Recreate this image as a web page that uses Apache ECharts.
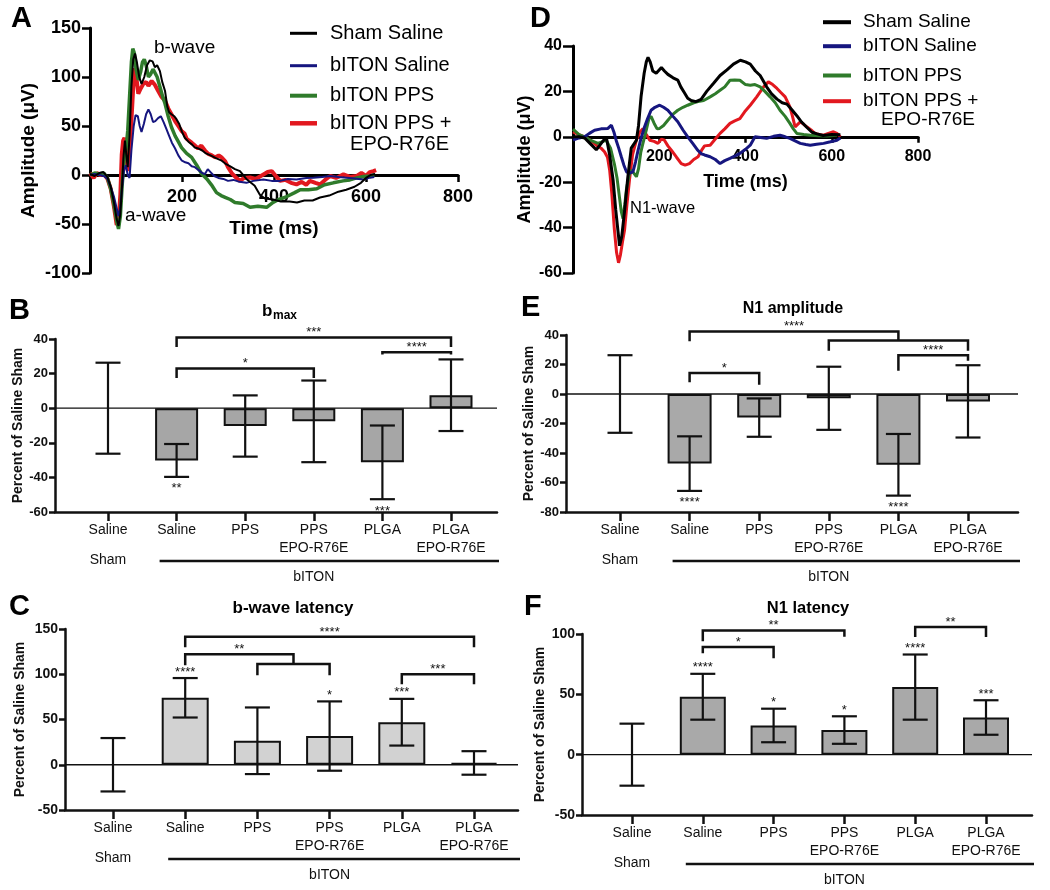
<!DOCTYPE html>
<html><head><meta charset="utf-8">
<script src="https://cdn.jsdelivr.net/npm/echarts@6/dist/echarts.min.js"></script>
<style>html,body{margin:0;padding:0;background:#fff}#c{width:1050px;height:890px}</style>
</head><body><div id="c"></div>
<script>
const FONT = "'Liberation Sans', Arial, Helvetica, sans-serif";
const INK = '#111111';

// ===== Panel A: ERG traces [time ms, amplitude uV] =====
const aShamSaline = [[0,1],[10,-1],[20,2],[29,3],[38,-2],[45,-12],[52,-28],[58,-45],[62,-52],[66,-40],[70,-8],[73,20],[76,35],[79,20],[82,8],[86,40],[90,90],[94,118],[98,124],[102,115],[107,100],[112,93],[118,100],[124,112],[130,117],[136,116],[141,110],[146,112],[152,106],[157,95],[163,86],[168,70],[172,64],[177,62],[183,60],[188,57],[194,52],[200,44],[206,38],[214,34],[222,31],[228,28],[236,27],[244,25],[252,22],[262,20],[275,17],[285,15],[296,11],[304,9],[315,6],[326,4],[340,-4],[350,-8],[358,-11],[369,-20],[380,-24],[398,-25],[415,-27],[434,-27],[450,-28],[466,-26],[484,-26],[500,-23],[520,-21],[540,-17],[557,-15],[575,-12],[589,-8],[600,-3],[610,0],[620,1]];
const aBitonSaline = [[0,0],[10,1],[20,0],[30,-1],[38,-4],[45,-12],[52,-22],[58,-34],[62,-42],[66,-32],[70,-12],[74,5],[78,10],[82,0],[86,-3],[90,25],[95,50],[99,61],[104,60],[108,50],[112,44],[117,52],[122,62],[127,67],[132,62],[137,54],[142,55],[148,58],[154,60],[160,54],[166,47],[172,40],[178,33],[185,27],[192,20],[199,15],[207,13],[214,12],[221,9],[228,8],[236,5],[244,2],[250,1],[256,6],[262,3],[270,-1],[279,-3],[290,-4],[300,-6],[312,-5],[325,-7],[340,-8],[355,-6],[377,-4.5],[395,-6],[413,-6],[430,-4],[449,-4.5],[470,-3],[486,-2.7],[505,-2],[522,-1],[540,-2],[558,-2.7],[575,-3.5],[594,-4.5],[609,-2.7],[618,-2]];
const aBitonPps = [[0,0],[10,2],[20,1],[30,2],[38,-3],[45,-14],[52,-30],[58,-47],[62,-55],[66,-42],[70,-10],[74,15],[78,25],[82,45],[86,80],[90,115],[93,129],[96,125],[100,108],[105,97],[110,105],[114,115],[118,118],[122,112],[127,100],[132,103],[137,108],[141,110],[146,100],[152,90],[158,80],[163,73],[170,60],[177,49],[185,40],[192,34],[199,28],[210,22],[221,18],[232,10],[243,1],[254,-4],[264,-10],[275,-18],[285,-21],[295,-23],[305,-25],[315,-28],[333,-29],[348,-33],[365,-32],[384,-33],[398,-28],[410,-25],[428,-22],[445,-18],[457,-15],[475,-15],[493,-14],[510,-10],[529,-8],[550,-6],[565,-5],[580,-3],[595,-1.5],[609,-1],[618,0]];
const aBitonPpsEpo = [[0,2],[8,-3],[15,2],[22,0],[30,1],[38,-4],[45,-14],[52,-32],[58,-51],[62,-48],[66,-20],[69,21],[72,35],[75,38],[78,25],[82,4],[86,25],[90,55],[94,90],[98,109],[102,95],[105,83],[110,88],[116,93],[122,95],[127,91],[134,96],[141,92],[148,86],[155,80],[163,76],[170,68],[177,62],[185,55],[192,50],[199,45],[206,42],[210,37],[214,36],[221,33],[228,30],[235,27],[242,30],[250,25],[257,21.5],[265,20],[272,18],[280,20],[286,18],[294,14],[300,8],[308,2],[316,-2],[326,-6],[335,-3],[348,-2.6],[360,-4],[377,0.6],[386,3],[395,4],[404,-1],[413,-6],[425,-5],[437,-8],[449,-9.6],[460,-7],[470,-10],[478,-6],[490,-8],[500,-9.6],[511,-5],[522,-1],[535,-3],[551,0.6],[565,-2],[580,-1],[590,2],[600,-1],[608,3],[616,4],[622,5]];
const aAmpTicks = [-100, -50, 0, 50, 100, 150];
const timeTicks = [0, 200, 400, 600, 800];

// ===== Panel D: VEP traces [time ms, amplitude uV] =====
const dShamSaline = [[0,0],[14,0],[27,-0.5],[40,-3],[54,-5.7],[65,-3],[77,0],[85,-8],[93,-19],[99,-32],[104,-41],[108,-48],[113,-44],[120,-32],[127,-18],[135,-5],[147,-1.5],[152,5],[158,18],[165,28],[170,33],[174,35],[179,33],[185,29],[193,28],[205,30.5],[212,29],[220,27.5],[232,26],[243,25],[250,22],[258,19.5],[266,17],[274,16],[285,15.5],[297,16.5],[310,20],[326,23.6],[341,27],[357,29.5],[372,32],[388,33.7],[400,33],[411,32],[423,29],[434,27],[449,22],[460,19],[473,16.6],[485,15],[496,14.4],[507,12],[519,9.3],[530,6.5],[542,4.2],[554,2],[566,1.3],[580,0.6],[600,1],[620,0.9]];
const dBitonSaline = [[0,-1.5],[14,-0.5],[27,0],[38,1.5],[50,2.9],[65,3.5],[81,3.7],[89,5.1],[95,2],[100,-1.5],[106,-5],[112,-8.8],[118,-12.5],[124,-15.4],[131,-16],[139,-15.4],[145,-11],[151,-5.9],[158,-0.5],[166,4.4],[173,8],[181,11.7],[190,13],[201,13.9],[210,13],[220,11.7],[232,9],[243,6.6],[255,3],[266,0],[278,-3],[289,-5.9],[298,-7.5],[305,-8],[318,-8.8],[330,-10],[341,-11.8],[352,-10.5],[364,-9.5],[375,-8.5],[387,-7.3],[400,-5.5],[411,-3.7],[422,0],[435,-0.3],[449,-0.7],[465,0.2],[480,0.7],[492,0],[503,-0.7],[515,-1.8],[527,-2.9],[540,-3.4],[550,-3.7],[565,-3.3],[581,-2.9],[597,-2.2],[612,-1.5],[620,-0.5]];
const dBitonPps = [[0,3.4],[14,1],[27,0],[40,-1.5],[58,-2.9],[70,-2],[77,-1.5],[87,-5],[96,-12],[102,-18],[108,-27],[112,-33],[116,-36],[120,-30],[124,-23],[130,-17],[135,-14.7],[141,-16],[147,-17.6],[152,-14],[157,-7],[162,-3],[170,3],[176,8],[181,9],[188,6],[195,3.5],[201,3.7],[210,5],[220,7.3],[232,10],[243,11.7],[255,13],[266,13.9],[280,15],[290,15.5],[303,16],[318,17.6],[330,19],[341,20.5],[352,22],[364,24.9],[375,25],[387,24.9],[400,23],[411,22.7],[422,23],[434,22],[445,20],[457,17.6],[469,15],[480,11.7],[492,9],[503,5.9],[511,3.5],[519,1.5],[535,1],[550,0.7],[570,0.5],[589,0.3],[612,0.7]];
const dBitonPpsEpo = [[0,2.2],[14,1],[27,0],[40,-1.5],[54,-3.7],[65,-5],[73,-6.6],[80,-9],[85,-14.7],[90,-25],[96,-41],[101,-51],[105.6,-55.5],[110,-52],[115,-46],[119.6,-41],[125,-30],[131,-19],[138,-8],[147,-1.5],[155,2],[162,3.6],[170,1],[178,-1.5],[188,-2],[197,-2.9],[205,-1],[212,-1.5],[220,-4],[228,-5.9],[240,-9],[251,-11.8],[260,-12.5],[270,-11.8],[280,-10],[290,-8.8],[298,-6],[305,-4],[318,-3.7],[330,-1],[341,1.5],[352,3.5],[364,5.9],[375,7],[387,8],[398,11],[411,13.9],[426,17.6],[442,22],[453,24.2],[463,23],[473,21.3],[482,19.5],[492,17.6],[503,13.2],[509,9],[515,4.4],[521,5.5],[527,6.6],[535,5.5],[542,4.4],[552,3],[561,1.5],[571,1],[581,0.7],[592,1.5],[604,2.2],[612,1.5],[620,0]];
const dAmpTicks = [-60, -40, -20, 0, 20, 40];

const traceNames = ['Sham Saline', 'bITON Saline', 'bITON PPS', 'bITON PPS + EPO-R76E'];
const traceColors = ['#000000', '#16167f', '#2f7b2b', '#e2181f'];

// ===== Bar panels =====
const categories = ['Saline', 'Saline', 'PPS', 'PPS\nEPO-R76E', 'PLGA', 'PLGA\nEPO-R76E'];
const groupLabels = ['Sham', '', '', '\nbITON', '', ''];

// B: b max
const bmaxMean = [0, -30.2, -10.3, -7.6, -31.3, 7.5];
const bmaxErr = [26.3, 9.5, 17.7, 23.6, 21.3, 20.7];
const bmaxStars = ['', '**', '', '', '***', ''];
const bmaxTicks = [-60, -40, -20, 0, 20, 40];
const bmaxBrackets = [[1, 5, 40.8, 35.4, 35.4], [1, 3, 23, 17.4, 17.4], [4, 5, 32.3, 31, 31]];
const bmaxBracketLabels = ['***', '*', '****'];

// E: N1 amplitude
const n1AmpMean = [0, -47.2, -16, -2.9, -48, -5];
const n1AmpErr = [26.3, 18.5, 13, 21.4, 20.9, 24.5];
const n1AmpStars = ['', '****', '', '', '****', ''];
const n1AmpTicks = [-80, -60, -40, -20, 0, 20, 40];
const n1AmpBrackets = [[1, 4, 42.4, 35.7, 36.3], [3, 5, 36.3, 29.4, 29.4], [1, 2, 14.2, 7.9, 6.3], [4, 5, 26.2, 15.8, 22.6]];
const n1AmpBracketLabels = ['****', '', '*', '****'];

// C: b-wave latency
const bLatMean = [0, 74, 26.5, 31.7, 47, 2];
const bLatErr = [29.5, 21.8, 36.8, 38.3, 25.8, 13];
const bLatStars = ['', '****', '', '*', '***', ''];
const bLatTicks = [-50, 0, 50, 100, 150];
const bLatBrackets = [[1, 5, 141.5, 129.7, 129.7], [1, 2.5, 122, 110, 111.2], [2, 3, 111.2, 99, 99], [4, 5, 100.1, 89, 89]];
const bLatBracketLabels = ['****', '**', '', '***'];

// F: N1 latency
const n1LatMean = [0, 48, 24.2, 20.4, 56, 30.8];
const n1LatErr = [25.7, 19, 13.9, 11.4, 27, 14.3];
const n1LatStars = ['', '****', '*', '*', '****', '***'];
const n1LatTicks = [-50, 0, 50, 100];
const n1LatBrackets = [[1, 3, 103, 93.9, 97.8], [1, 2, 89.2, 84, 80], [4, 5, 105.8, 97.5, 97.5]];
const n1LatBracketLabels = ['**', '*', '**'];

// ===== Builders =====
const grids = [], xAxes = [], yAxes = [], series = [], legends = [], graphics = [];

function gridSpec(left, top, width, height) {
  return { left: left, top: top, width: width, height: height, containLabel: false, outerBoundsMode: 'none' };
}

function linePanel(traces, yTicks, L) {
  const gi = grids.length;
  const yMin = yTicks[0], yMax = yTicks[yTicks.length - 1];
  grids.push(gridSpec(L.left, L.top, L.width, L.height));
  // x axis crosses the y axis at amplitude 0
  const zeroShift = L.height * (0 - yMin) / (yMax - yMin);
  xAxes.push({
    gridIndex: gi, type: 'value', position: 'bottom', offset: -zeroShift,
    min: timeTicks[0], max: timeTicks[timeTicks.length - 1], interval: timeTicks[1] - timeTicks[0],
    axisLine: { show: true, onZero: false, lineStyle: { color: '#000', width: 3 } },
    axisTick: { show: true, inside: false, length: L.xTickLen, lineStyle: { color: '#000', width: 2.5 } },
    axisLabel: { show: true, showMinLabel: false, showMaxLabel: true, margin: L.xLabelMargin, fontSize: L.tickFont, fontWeight: 'bold', color: '#000', fontFamily: FONT },
    splitLine: { show: false },
    name: 'Time (ms)', nameLocation: 'middle', nameGap: L.xNameGap,
    nameTextStyle: { fontSize: L.nameFont, fontWeight: 'bold', color: '#000', fontFamily: FONT }
  });
  yAxes.push({
    gridIndex: gi, type: 'value', position: 'left',
    min: yMin, max: yMax, interval: yTicks[1] - yTicks[0],
    axisLine: { show: true, onZero: false, lineStyle: { color: '#000', width: 3 } },
    axisTick: { show: true, inside: false, length: L.yTickLen, lineStyle: { color: '#000', width: 2.5 } },
    axisLabel: { show: true, showMinLabel: true, showMaxLabel: true, margin: L.yLabelMargin, fontSize: L.tickFont, fontWeight: 'bold', color: '#000', fontFamily: FONT },
    splitLine: { show: false },
    name: 'Amplitude (\u03bcV)', nameLocation: 'middle', nameGap: L.yNameGap,
    nameTextStyle: { fontSize: L.nameFont, fontWeight: 'bold', color: '#000', fontFamily: FONT }
  });
  // draw order: red, green, blue, black (black on top)
  [3, 2, 1, 0].forEach(function (k, order) {
    series.push({
      type: 'line', name: traceNames[k], xAxisIndex: gi, yAxisIndex: gi,
      data: traces[k], symbol: 'none', showSymbol: false, smooth: false,
      lineStyle: { color: traceColors[k], width: L.lineWidths[k] },
      itemStyle: { color: traceColors[k] },
      z: 3 + order, silent: true, emphasis: { disabled: true }
    });
  });
  traceNames.forEach(function (nm, k) {
    const label = k === 3 ? 'bITON PPS +' : nm;
    legends.push({
      show: true, data: [{ name: nm, icon: 'rect' }], left: L.legLeft, top: L.legRows[k] - 10,
      orient: 'vertical', padding: 0, itemWidth: L.legItemW, itemHeight: L.legLineW[k], selectedMode: false,
      formatter: function () { return '{t|' + label + '}'; },
      itemStyle: { color: traceColors[k], borderWidth: 0 },
      textStyle: { fontSize: L.legFont, fontFamily: FONT, color: '#000',
        rich: { t: { fontSize: L.legFont, lineHeight: 20, fontFamily: FONT, color: '#000', padding: [0, 0, 0, L.legPad] } } }
    });
  });
  graphics.push(textEl('EPO-R76E', L.epoRight, L.epoY, L.legFont, 'normal', 'right'));
}

function textEl(text, x, y, size, weight, align) {
  return {
    type: 'text', x: x, y: y, silent: true, z: 100,
    style: { text: text, fontSize: size, fontWeight: weight, fontFamily: FONT, fill: '#000',
      align: align, textAlign: align, verticalAlign: 'middle', textVerticalAlign: 'middle' }
  };
}

function catX(api, v) {
  const i = Math.floor(v), f = v - i;
  const p0 = api.coord([i, 0])[0];
  if (f === 0) return p0;
  const p1 = api.coord([i + 1, 0])[0];
  return p0 + (p1 - p0) * f;
}

function barPanel(P, L) {
  const t = P.ticks;
  const yMin = t[0], yMax = t[t.length - 1], yInt = t[1] - t[0];
  // frame grid: axis lines, y ticks, zero line
  const gf = grids.length;
  grids.push(gridSpec(L.axisX, L.top, L.axisEnd - L.axisX, L.bottom - L.top));
  const xf = xAxes.length;
  xAxes.push({ gridIndex: gf, type: 'value', min: 0, max: 1, position: 'bottom',
    axisLine: { show: true, onZero: false, lineStyle: { color: INK, width: 2.5 } },
    axisTick: { show: false }, axisLabel: { show: false }, splitLine: { show: false } });
  const yf = yAxes.length;
  yAxes.push({ gridIndex: gf, type: 'value', position: 'left', min: yMin, max: yMax, interval: yInt,
    axisLine: { show: true, onZero: false, lineStyle: { color: INK, width: 2.5 } },
    axisTick: { show: true, inside: false, length: 6, lineStyle: { color: INK, width: 2.5 } },
    axisLabel: { show: true, showMinLabel: true, showMaxLabel: true, margin: 7, fontSize: L.tickFont, fontWeight: 'bold', color: INK, fontFamily: FONT },
    splitLine: { show: false },
    name: 'Percent of Saline Sham', nameLocation: 'middle', nameGap: L.nameGap,
    nameTextStyle: { fontSize: 14, fontWeight: 'bold', color: INK, fontFamily: FONT } });
  series.push({ type: 'line', xAxisIndex: xf, yAxisIndex: yf, data: [[0, 0], [1, 0]], symbol: 'none',
    lineStyle: { color: INK, width: 1.3 }, silent: true, z: 1 });

  // data grid: categories, bars, error bars, brackets
  const sp = (L.c5 - L.c0) / 5;
  const gd = grids.length;
  grids.push(gridSpec(L.c0 - sp / 2, L.top, sp * 6, L.bottom - L.top));
  const xd = xAxes.length;
  xAxes.push({ gridIndex: gd, type: 'category', data: categories, position: 'bottom', boundaryGap: true,
    axisLine: { show: false, onZero: false },
    axisTick: { show: true, alignWithLabel: true, interval: 0, length: 9, lineStyle: { color: INK, width: 2.5 } },
    axisLabel: { show: true, interval: 0, margin: 9, fontSize: 14, lineHeight: 18, color: INK, fontFamily: FONT, hideOverlap: false },
    splitLine: { show: false } });
  xAxes.push({ gridIndex: gd, type: 'category', data: categories, position: 'bottom', boundaryGap: true,
    axisLine: { show: false, onZero: false }, axisTick: { show: false },
    axisLabel: { show: true, interval: 0, margin: 39, fontSize: 14, lineHeight: 17.5, color: INK, fontFamily: FONT, hideOverlap: false,
      formatter: function (v, i) { return groupLabels[i]; } },
    splitLine: { show: false } });
  const yd = yAxes.length;
  yAxes.push({ gridIndex: gd, type: 'value', min: yMin, max: yMax, interval: yInt, show: false, splitLine: { show: false } });

  series.push({ type: 'bar', xAxisIndex: xd, yAxisIndex: yd,
    data: P.mean.map(function (m, i) { return i === 0 ? { value: m, itemStyle: { borderWidth: 0, opacity: 0 } } : m; }),
    barWidth: L.barW, itemStyle: { color: L.fill, borderColor: INK, borderWidth: 2 }, silent: true, z: 2 });

  series.push({ type: 'custom', xAxisIndex: xd, yAxisIndex: yd, silent: true, z: 4, clip: false,
    data: P.mean.map(function (m, i) { return [i, m]; }),
    renderItem: function (params, api) {
      const i = params.dataIndex, m = P.mean[i], e = P.err[i];
      const x = api.coord([i, m])[0];
      const yT = api.coord([i, m + e])[1];
      const yB = api.coord([i, m - e])[1];
      const h = 12.5;
      const st = function () { return { stroke: INK, lineWidth: 2.2 }; };
      const ch = [
        { type: 'line', shape: { x1: x, y1: yT, x2: x, y2: yB }, style: st() },
        { type: 'line', shape: { x1: x - h, y1: yT, x2: x + h, y2: yT }, style: st() },
        { type: 'line', shape: { x1: x - h, y1: yB, x2: x + h, y2: yB }, style: st() }
      ];
      const s = P.stars[i];
      if (s) ch.push({ type: 'text', x: x, y: P.starPos === 'above' ? yT - 6 : yB + 12,
        style: { text: s, align: 'center', verticalAlign: 'middle', fontSize: 13, fontFamily: FONT, fill: INK } });
      return { type: 'group', children: ch };
    } });

  series.push({ type: 'custom', xAxisIndex: xd, yAxisIndex: yd, silent: true, z: 5, clip: false,
    data: P.brackets.map(function (b) { return [b[0], b[2]]; }),
    renderItem: function (params, api) {
      const b = P.brackets[params.dataIndex];
      const x1 = catX(api, b[0]), x2 = catX(api, b[1]);
      const yT = api.coord([0, b[2]])[1], yL = api.coord([0, b[3]])[1], yR = api.coord([0, b[4]])[1];
      const ch = [{ type: 'polyline', shape: { points: [[x1, yL], [x1, yT], [x2, yT], [x2, yR]] },
        style: { stroke: INK, lineWidth: 2.5, fill: 'none' } }];
      const lab = P.bracketLabels[params.dataIndex];
      if (lab) ch.push({ type: 'text', x: (x1 + x2) / 2, y: yT - 4.7,
        style: { text: lab, align: 'center', verticalAlign: 'middle', fontSize: 13, fontFamily: FONT, fill: INK } });
      return { type: 'group', children: ch };
    } });

  // bITON group underline
  series.push({ type: 'custom', xAxisIndex: xd, yAxisIndex: yd, silent: true, z: 5, clip: false,
    data: [[1, 0]],
    renderItem: function (params, api) {
      const cs = params.coordSys;
      const x1 = api.coord([1, 0])[0] - 17;
      const y = cs.y + cs.height + 49;
      return { type: 'line', shape: { x1: x1, y1: y, x2: L.axisEnd + 2, y2: y }, style: { stroke: INK, lineWidth: 2.5 } };
    } });
}

// ===== Build panels =====
linePanel([aShamSaline, aBitonSaline, aBitonPps, aBitonPpsEpo], aAmpTicks, {
  left: 90, top: 28, width: 368, height: 245,
  tickFont: 18, nameFont: 19, xTickLen: 7, yTickLen: 8, xLabelMargin: 13, yLabelMargin: 9,
  xNameGap: 44, yNameGap: 52, lineWidths: [2, 2, 3.5, 4],
  legLeft: 290, legRows: [33.3, 65.7, 95.7, 123.3], legItemW: 27, legPad: 8, legFont: 20, legLineW: [3, 3, 4, 4.5],
  epoRight: 449, epoY: 144
});
linePanel([dShamSaline, dBitonSaline, dBitonPps, dBitonPpsEpo], dAmpTicks, {
  left: 573, top: 46, width: 345, height: 227,
  tickFont: 16, nameFont: 18, xTickLen: 6, yTickLen: 10, xLabelMargin: 12, yLabelMargin: 11,
  xNameGap: 36, yNameGap: 39, lineWidths: [3, 3, 3, 3],
  legLeft: 823, legRows: [22.7, 46.7, 76, 101.7], legItemW: 28, legPad: 7, legFont: 19, legLineW: [4, 4, 4, 4],
  epoRight: 975, epoY: 120
});

barPanel({ mean: bmaxMean, err: bmaxErr, stars: bmaxStars, starPos: 'below', ticks: bmaxTicks, brackets: bmaxBrackets, bracketLabels: bmaxBracketLabels },
  { axisX: 55, axisEnd: 497, top: 339, bottom: 512, c0: 108, c5: 451, barW: 43, fill: '#a6a6a6', tickFont: 13, nameGap: 28 });
barPanel({ mean: n1AmpMean, err: n1AmpErr, stars: n1AmpStars, starPos: 'below', ticks: n1AmpTicks, brackets: n1AmpBrackets, bracketLabels: n1AmpBracketLabels },
  { axisX: 566, axisEnd: 1018, top: 335, bottom: 512, c0: 620, c5: 968, barW: 44, fill: '#a9a9a9', tickFont: 13, nameGap: 30 });
barPanel({ mean: bLatMean, err: bLatErr, stars: bLatStars, starPos: 'above', ticks: bLatTicks, brackets: bLatBrackets, bracketLabels: bLatBracketLabels },
  { axisX: 65, axisEnd: 518, top: 629, bottom: 810, c0: 113, c5: 474, barW: 47, fill: '#d2d2d2', tickFont: 14, nameGap: 38 });
barPanel({ mean: n1LatMean, err: n1LatErr, stars: n1LatStars, starPos: 'above', ticks: n1LatTicks, brackets: n1LatBrackets, bracketLabels: n1LatBracketLabels },
  { axisX: 582, axisEnd: 1032, top: 634, bottom: 815, c0: 632, c5: 986, barW: 46, fill: '#a9a9a9', tickFont: 14, nameGap: 35 });

// ===== Text annotations =====
graphics.push(textEl('A', 11, 19, 29, 'bold', 'left'));
graphics.push(textEl('D', 530, 19, 29, 'bold', 'left'));
graphics.push(textEl('B', 9, 311, 29, 'bold', 'left'));
graphics.push(textEl('E', 521, 308, 29, 'bold', 'left'));
graphics.push(textEl('C', 9, 607, 29, 'bold', 'left'));
graphics.push(textEl('F', 524, 607, 29, 'bold', 'left'));
graphics.push(textEl('b', 272.5, 311, 17, 'bold', 'right'));
graphics.push(textEl('max', 273, 316, 12, 'bold', 'left'));
graphics.push(textEl('N1 amplitude', 793, 309, 16, 'bold', 'center'));
graphics.push(textEl('b-wave latency', 293, 608, 17, 'bold', 'center'));
graphics.push(textEl('N1 latency', 808, 608, 16.5, 'bold', 'center'));
graphics.push(textEl('b-wave', 154, 48, 19, 'normal', 'left'));
graphics.push(textEl('a-wave', 125, 216, 19, 'normal', 'left'));
graphics.push(textEl('N1-wave', 630, 208, 16.5, 'normal', 'left'));

const chart = echarts.init(document.getElementById('c'), null, { renderer: 'canvas', width: 1050, height: 890 });
chart.setOption({
  animation: false,
  backgroundColor: '#ffffff',
  textStyle: { fontFamily: FONT },
  tooltip: { show: false },
  grid: grids, xAxis: xAxes, yAxis: yAxes, series: series, legend: legends, graphic: graphics
});
</script></body></html>
